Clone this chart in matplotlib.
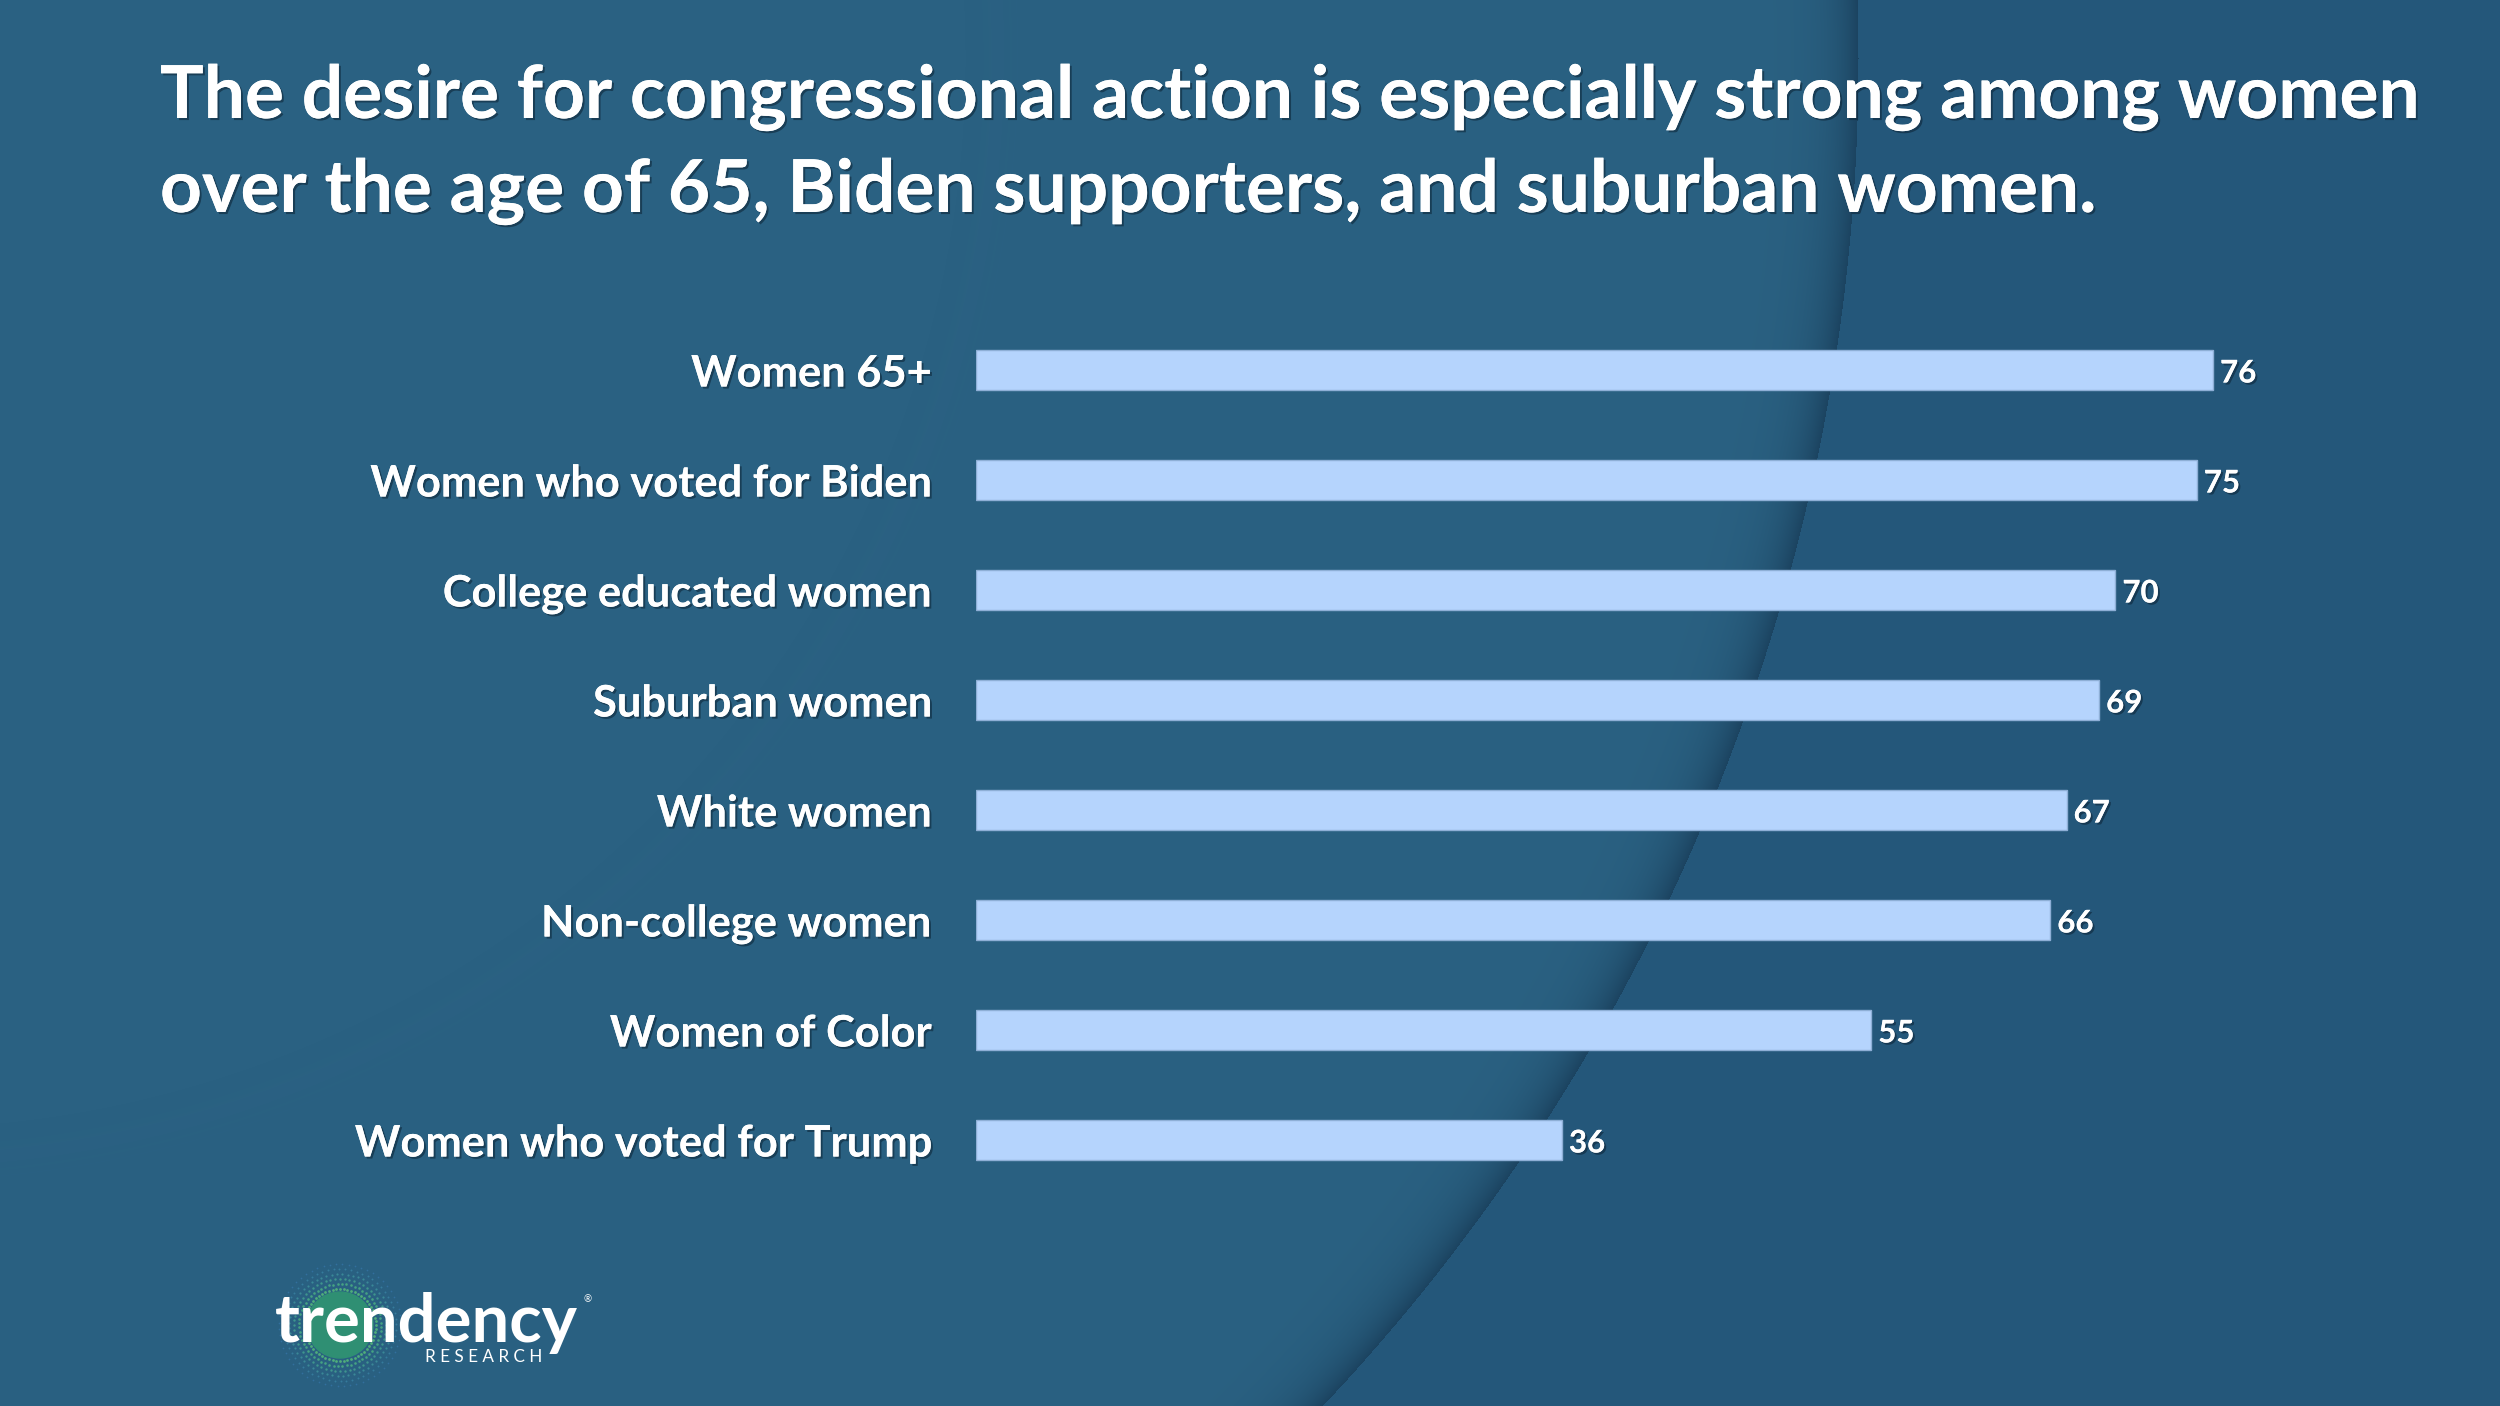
import numpy as np
import matplotlib.pyplot as plt
import matplotlib.patheffects as pe
from matplotlib.patches import Circle

# data
categories = ['Women 65+', 'Women who voted for Biden', 'College educated women',
              'Suburban women', 'White women', 'Non-college women',
              'Women of Color', 'Women who voted for Trump']
values = [76, 75, 70, 69, 67, 66, 55, 36]
title_lines = ['The desire for congressional action is especially strong among women',
               'over the age of 65, Biden supporters, and suburban women.']

W, H = 2500, 1406
FONT = 'Lato'
BAR = '#B5D4FD'
shadow = [pe.withSimplePatchShadow(offset=(1.5, -1.5), shadow_rgbFace='#0b2233', alpha=0.55), pe.Normal()]

fig = plt.figure(figsize=(25, 14.06), dpi=100)
renderer = fig.canvas.get_renderer()


def fit(t, target_px):
    w = t.get_window_extent(renderer).width
    t.set_fontsize(t.get_fontsize() * target_px / w)


# background with the big circle edge
bg = fig.add_axes([0, 0, 1, 1])
bg.axis('off')
yy, xx = np.mgrid[0:H, 0:W]
dist = np.hypot(xx + 105, yy - 58)
inside = np.array([42, 97, 130]) / 255
outside = np.array([36, 87, 122]) / 255
edge = np.array([24, 60, 88]) / 255
img = np.where((dist < 1963)[..., None], inside, outside)
d_in = 1963 - dist
shade = np.exp(-np.clip(d_in, 0, None) / 24) * (d_in >= 0) * 0.8
img = img * (1 - shade[..., None]) + edge * shade[..., None]
bg.imshow(img, extent=(0, W, H, 0), aspect='auto', interpolation='bilinear')
bg.set_xlim(0, W)
bg.set_ylim(H, 0)

# logo
ang = np.linspace(0, 2 * np.pi, 60, endpoint=False)
for k, rr in enumerate(np.arange(36, 62, 5)):
    a = ang + k * 0.05
    bg.scatter(340 + rr * np.cos(a), 1325 + rr * np.sin(a), s=4 - k * 0.5,
               color=['#4fae7a', '#45a283', '#3f958e', '#3a8897', '#357b9c', '#326f9d'][k],
               linewidths=0, zorder=2)
bg.add_patch(Circle((340, 1325), 33, color='#2f8f73', zorder=3))
logo = bg.text(275, 1342, 'trendency', color='white', fontsize=40, fontweight='bold',
               family=FONT, va='baseline', ha='left', zorder=4)
fit(logo, 303)
res = bg.text(425, 1362, 'R E S E A R C H', color='white', fontsize=8, family=FONT,
              va='baseline', ha='left', zorder=4)
fit(res, 117)
bg.text(584, 1300, '®', color='white', fontsize=7, family=FONT, va='center', zorder=4)

# chart
ax = fig.add_axes([976 / W, 1 - 1195 / H, 1465 / W, 880 / H])
ax.set_facecolor('none')
y = np.arange(len(categories))
ax.barh(y, values, height=0.355, color=BAR, edgecolor='#8eafd6', linewidth=1)
ax.set_xlim(0, 90)
ax.set_ylim(len(categories) - 0.5, -0.5)
ax.set_xticks([])
ax.set_yticks(y)
ax.set_yticklabels(categories)
ax.tick_params(axis='y', length=0, pad=32)
for s in ax.spines.values():
    s.set_visible(False)

labels = ax.get_yticklabels()
for lbl in labels:
    lbl.set_fontfamily(FONT)
    lbl.set_fontweight('bold')
    lbl.set_color('white')
    lbl.set_fontsize(30)
    lbl.set_path_effects(shadow)
w = labels[1].get_window_extent(renderer).width
for lbl in labels:
    lbl.set_fontsize(30 * 561 / w)

for i, v in enumerate(values):
    ax.annotate(str(v), (v, i), xytext=(5, -2.5), textcoords='offset points',
                va='center', ha='left', color='white', fontsize=22.5,
                fontweight='bold', family=FONT, path_effects=shadow)

# title
t1 = fig.text(160 / W, 1 - 118 / H, title_lines[0], color='white', fontsize=48,
              fontweight='bold', family=FONT, va='baseline', ha='left',
              path_effects=shadow)
fit(t1, 2261)
fig.text(160 / W, 1 - 212 / H, title_lines[1], color='white', fontsize=t1.get_fontsize(),
         fontweight='bold', family=FONT, va='baseline', ha='left', path_effects=shadow)

fig.savefig('out.png', dpi=100)
